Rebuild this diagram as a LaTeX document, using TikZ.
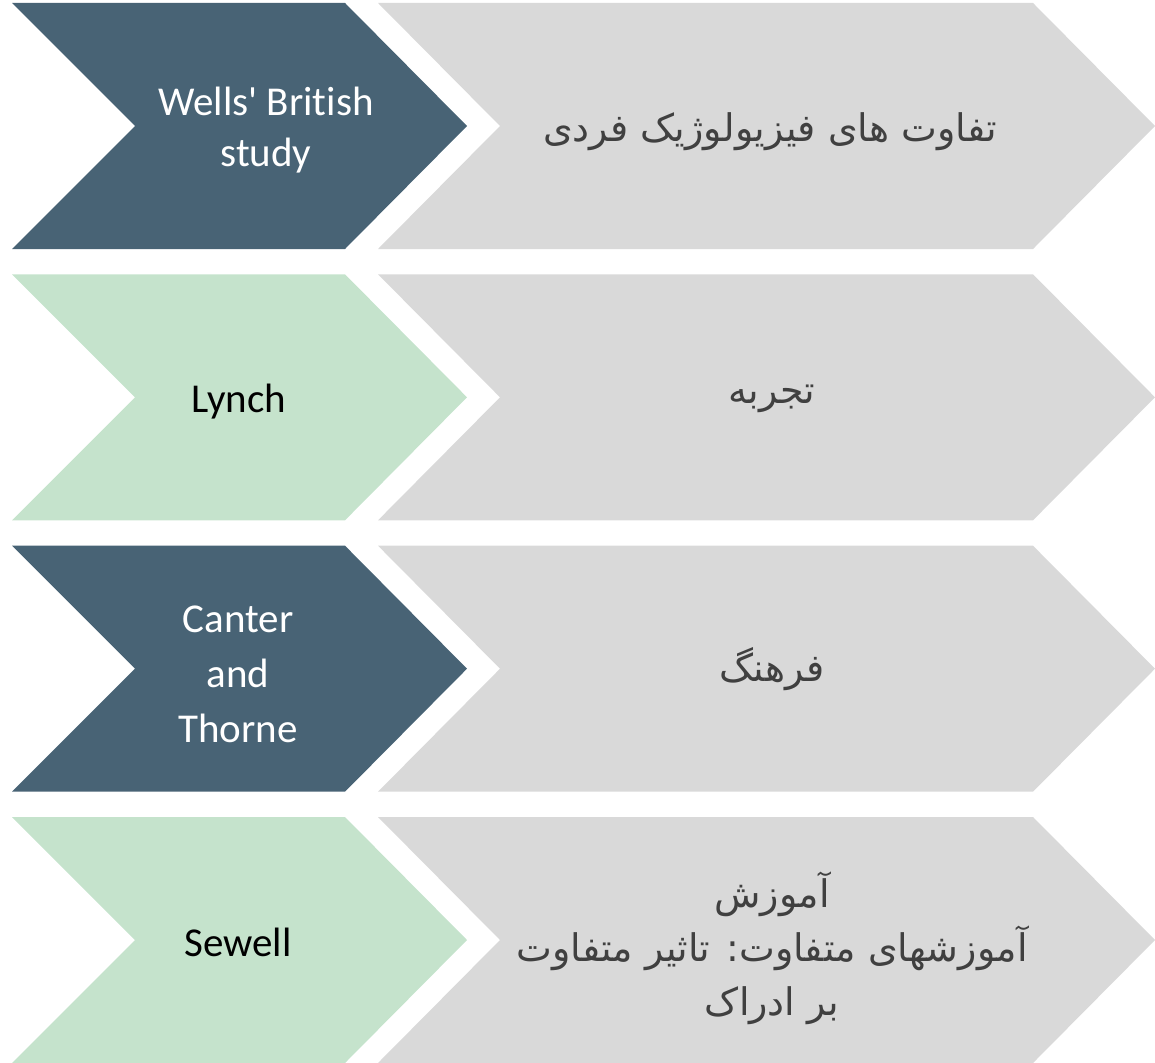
\documentclass[tikz,border=0pt]{standalone}
\usepackage{fontspec}
\setmainfont{Carlito}[Ligatures=NoCommon]
\newfontfamily\fafont[Script=Arabic]{DejaVu Sans}
\TeXXeTstate=1
\definecolor{dk}{HTML}{486375}
\definecolor{gr}{HTML}{C5E3CC}
\definecolor{lg}{HTML}{D9D9D9}
\definecolor{tx}{HTML}{404040}
\tikzset{
  lt/.style={font=\fontsize{41}{51}\selectfont, align=center, inner sep=0pt},
  fa/.style={font=\fafont\fontsize{38}{54}\selectfont, text=tx, align=center, inner sep=0pt}
}
\begin{document}
\begin{tikzpicture}[x=1pt,y=-1pt]
\useasboundingbox (0,0) rectangle (1155,1062);
\foreach \t/\c in {3/dk,274.3/gr,545.7/dk,817/gr}{
  \fill[\c] (12,\t) -- (345,\t) -- (467,{\t+123}) -- (345,{\t+246}) -- (12,{\t+246}) -- (135,{\t+123}) -- cycle;
  \fill[lg] (378,\t) -- (1033,\t) -- (1155,{\t+123}) -- (1033,{\t+246}) -- (378,{\t+246}) -- (500,{\t+123}) -- cycle;
}
\node[lt, text=white] (l1) at (266,130.5) {Wells\textquotesingle\ British\\study};
\node[lt, anchor=base] (l2) at (239,412) {Lynch};
\node[lt, text=white, font=\fontsize{41}{55}\selectfont] (l3) at (238,674) {Canter\\and\\Thorne};
\node[lt, anchor=base] (l4) at (238,956) {Sewell};
\node[fa, anchor=base] (r1) at (770,141) {\beginR تفاوت های فیزیولوژیک فردی\endR};
\node[fa, anchor=base] (r2) at (772,403) {\beginR تجربه\endR};
\node[fa, anchor=base] (r3) at (772,681) {\beginR فرهنگ\endR};
\node[fa] (r4) at (772,948) {\beginR آموزش\endR\\\beginR آموزشهای متفاوت: تاثیر متفاوت\endR\\\beginR بر ادراک\endR};
\end{tikzpicture}
\end{document}
